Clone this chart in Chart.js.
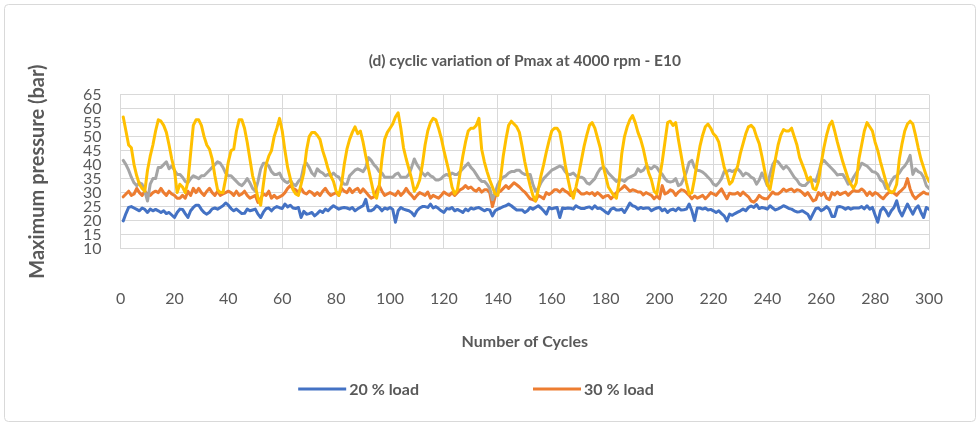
<!DOCTYPE html>
<html>
<head>
<meta charset="utf-8">
<script src="https://cdn.jsdelivr.net/npm/chart.js@4.4.1/dist/chart.umd.min.js"></script>
<style>
  html, body { margin: 0; padding: 0; background: #ffffff; }
  #wrap { width: 980px; height: 426px; position: relative; }
  canvas { display: block; }
</style>
</head>
<body>
<div id="wrap"><canvas id="c" width="980" height="426"></canvas></div>
<script>
// ---------- data ----------
const chartTitle = '(d) cyclic variation of Pmax at 4000 rpm - E10';
const xTitle = 'Number of Cycles';
const yTitle = 'Maximum pressure (bar)';
const seriesNames = ['20 % load', '30 % load', '40 % load', '50 % load'];
const legendNames = ['20 % load', '30 % load'];
const xTicks = [0, 20, 40, 60, 80, 100, 120, 140, 160, 180, 200, 220, 240, 260, 280, 300];
const yTicks = [10, 15, 20, 25, 30, 35, 40, 45, 50, 55, 60, 65];
const cycles = Array.from({ length: 300 }, (_, i) => i + 1);

const load20 = [
  19.9, 22.5, 24.7, 25, 24.5, 24, 23.5, 24.5, 24, 22.9,
  24.1, 23.5, 24, 23.5, 22.9, 23.5, 22.5, 22.9, 22, 21.1,
  22.9, 24.1, 24, 22.5, 21.1, 23.5, 24.7, 25.5, 25.5, 24,
  22.9, 22.3, 23, 24.2, 24.5, 24.1, 24.7, 25.3, 26.3, 25.5,
  24.3, 23.5, 24.1, 23.3, 22.5, 22.6, 24.1, 23.5, 23.8, 24.1,
  22.3, 21.1, 23, 24.3, 24.5, 23.5, 24.5, 25, 24.6, 24.3,
  25.9, 24.9, 25.5, 24.5, 24.3, 24.7, 21.1, 23.3, 22.3, 22.5,
  22.9, 21.7, 22.5, 23.5, 22.9, 24.1, 23.5, 24.5, 25.3, 24.7,
  24.1, 24.5, 24.7, 24.5, 24.1, 24.7, 23.5, 24.2, 24.8, 25.3,
  27.6, 23.5, 23.5, 24.1, 25.3, 24.7, 23.5, 24.5, 24.1, 24.7,
  24, 19.4, 23.5, 24.7, 24.1, 23.8, 23.5, 22.9, 21.7, 23.5,
  24.5, 25, 25, 24.7, 25.9, 24.5, 25, 24.3, 23.5, 22.9,
  24.3, 24.1, 24.7, 23.5, 24, 23.5, 22.9, 24.1, 23.5, 24.5,
  24.1, 24.5, 24.7, 24.1, 23.5, 24, 23.8, 21.7, 23.5, 24.1,
  24.5, 25, 25.3, 25.9, 25.3, 24.5, 23.8, 23.8, 23.8, 22.9,
  23.5, 24.7, 24.1, 24.7, 25.3, 24.5, 23.5, 22.3, 24.7, 24.2,
  24.5, 24.7, 21.1, 24.5, 24.3, 24.5, 24.4, 24.1, 25.3, 24.7,
  24.3, 24.3, 24.7, 24.9, 24.2, 25.3, 24.3, 24.5, 23.8, 23,
  22.5, 24.1, 24.5, 23.8, 23.8, 24.1, 22.9, 24.5, 26.3, 25.3,
  25, 24.1, 24.7, 24.3, 24.5, 24.5, 23.5, 24.1, 24.5, 24.7,
  23.5, 24.1, 22.9, 23.8, 24.1, 23.5, 24.5, 23.8, 23.9, 24.1,
  25.9, 23.5, 20, 24.5, 24.5, 24.1, 24.5, 23.8, 24, 23.5,
  22.9, 23.5, 22.5, 21.7, 19.9, 22.3, 21.9, 22.5, 23, 23.5,
  24.1, 23.5, 24.7, 25.2, 24.7, 25.7, 24.3, 24.7, 24.5, 24.1,
  25.3, 24.5, 23.8, 24.2, 24.7, 25.3, 24.9, 24.3, 24.1, 23.5,
  23.1, 23.2, 23.5, 22.9, 22.3, 20.5, 22.5, 24.3, 24.5, 23.5,
  24.1, 25, 24, 21.5, 21.5, 24.9, 25, 24.7, 24.1, 24.7,
  24.1, 24.5, 24.5, 24.5, 25, 24.2, 25.3, 24.1, 24.7, 22,
  19.4, 23.5, 24.7, 23.5, 21.7, 23.5, 24.7, 27.1, 23.5, 21.7,
  23.8, 25.9, 24.1, 22.3, 24.3, 25.3, 23, 21.1, 24.7, 24
];

const load30 = [
  28.5, 29.5, 30.5, 29, 29.5, 31.5, 30, 29, 30.5, 29.5,
  29, 30, 30.5, 30, 31.5, 30, 29, 30.5, 29.5, 29,
  28, 28, 29, 28, 30.5, 29, 31.5, 30, 31.5, 30,
  29, 30.5, 31.5, 30, 29, 30.5, 29, 29.5, 30, 30.5,
  30, 29, 30.5, 29, 29.5, 30.5, 29, 28, 28.5, 29,
  26.5, 28, 29.5, 29, 30.5, 28, 29, 28, 28.5, 29,
  30, 31.5, 32.5, 31.5, 31, 30, 31.5, 30, 29.5, 30.5,
  30, 29, 30, 29, 30.5, 31.5, 30, 29, 29.5, 30,
  29, 31.5, 30.5, 30, 31.5, 30, 31, 31.5, 30, 31.3,
  30.2, 29, 28, 28.5, 30.5, 32.5, 30.5, 29, 29.5, 30,
  29.5, 29, 30.5, 29, 30, 31.5, 30, 29, 27.8, 29,
  30, 29.5, 29, 30.2, 28, 29, 28.5, 28, 29, 30.2,
  29.5, 29, 30, 29, 30, 31, 31.5, 32.5, 31.5, 32,
  31, 30.5, 31.5, 30.2, 31, 31, 30, 25, 28.5, 30,
  30.5, 31.5, 32.5, 31.5, 32.5, 33.5, 32.8, 32, 31, 30.2,
  29, 27.8, 27.5, 27, 29, 28.5, 27.8, 30, 29.3, 30,
  31, 31, 30.2, 31.3, 30.5, 30, 29, 30, 31.3, 30.5,
  29.5, 29.5, 30, 29.5, 30, 29, 30, 29.2, 28.2, 28.8,
  29, 27.8, 28.8, 30, 30.8, 31.5, 32.5, 31.5, 30.5, 31,
  30.7, 30.2, 30.2, 29.2, 30, 29.5, 29, 27.8, 28.8, 27.8,
  32.5, 29.5, 30, 31, 30.5, 29, 30.2, 31, 30.8, 30,
  29, 27.8, 28.8, 28, 28.5, 29, 27.8, 28.8, 30, 29.5,
  29, 30.2, 31.3, 29.5, 27.8, 29.8, 29.5, 29.5, 30, 29,
  30.2, 29.3, 28.5, 27, 26.6, 27.5, 29, 28.2, 27.8, 27.8,
  29, 30.2, 29.5, 29.5, 30.2, 31.3, 30.5, 31, 31.3, 30.3,
  31, 30.8, 30, 29, 30, 28.5, 27, 27.5, 30, 29,
  30, 28, 27.5, 30, 29.2, 30.2, 29.3, 29.8, 30.2, 29,
  30, 30.8, 30.5, 30.5, 31.3, 30.5, 29, 30.2, 29, 30,
  29.5, 28.5, 27.8, 29, 30, 30.2, 29.8, 29, 30.2, 31,
  32, 35, 31.3, 29, 27.8, 28.8, 29.5, 30.2, 29.6, 29.5
];

const load40 = [
  41.5, 40, 38, 35.5, 33.5, 32.5, 33.5, 33, 30.5, 27,
  33, 35, 35, 39, 39, 40, 41, 38.5, 39.5, 38,
  36.5, 36.5, 35.5, 34, 33.5, 35, 36, 35.5, 35, 36,
  36, 37, 38, 39, 40, 41, 40.5, 39, 37, 36,
  36, 35, 34, 33, 32.5, 33.5, 35, 33.5, 31.5, 30.5,
  34, 38.5, 40.5, 40.5, 39.5, 37.5, 36.5, 36.5, 37, 35,
  34, 33.5, 34.5, 33, 32.5, 34, 35, 39.5, 40.5, 39,
  37, 36, 38.5, 37.5, 37, 36, 36.5, 36, 37, 36,
  35.5, 34, 33, 33, 36, 37, 38, 38.5, 38, 37.5,
  39, 42.5, 41.5, 40, 39, 37.5, 37, 35.5, 35.5, 35.5,
  35.5, 36.5, 37, 35.5, 35.5, 35.5, 36.5, 39, 42, 40,
  38.5, 37, 36, 37, 36, 35.5, 34.5, 34.5, 35, 36,
  36.5, 36, 37, 36.5, 36.5, 37.5, 38.5, 39.5, 40.5, 39,
  38, 36.5, 35, 34, 34, 33, 31.5, 27.5, 30, 33,
  34.5, 35.5, 36, 37, 37.5, 37.5, 38, 38, 37, 36.5,
  36.5, 36.5, 33, 30.5, 31.5, 33.5, 35, 36, 37, 38,
  38.5, 39, 39.5, 39, 37.5, 36.5, 36.5, 37, 36, 35.5,
  35.5, 35, 33.5, 33, 34, 35, 37, 38.5, 39, 38.5,
  37, 36, 35, 34, 34.5, 34.5, 34, 35, 35.5, 36,
  36.5, 38.5, 37.5, 38, 39.5, 39, 38.5, 39.5, 39, 37.5,
  36.5, 35, 34, 33.8, 34, 35, 32.5, 33, 35, 37.5,
  40.8, 41.5, 39, 38, 37.8, 37.3, 36.5, 35.5, 34.5, 33,
  32.5, 33.5, 35, 37.5, 37.5, 38, 37.5, 38, 38.5, 37.5,
  36, 37, 36.5, 35.5, 35, 33, 34.5, 37, 35, 32.5,
  36.5, 40, 41.5, 41, 39.7, 38.5, 39.5, 38.5, 37, 35.5,
  34.5, 33, 32.5, 32.5, 33.5, 34.5, 34.5, 34, 37, 40.5,
  41.5, 40.5, 39.5, 38.5, 37.5, 36.3, 36.5, 36.5, 35, 33,
  33.5, 35.5, 37, 38.5, 40.5, 40, 39.5, 38.5, 37.5, 37.3,
  36.5, 34.5, 33.8, 31.5, 32, 34, 35.5, 36, 37, 38.5,
  39.5, 41, 43.3, 36.5, 38.5, 37.5, 37, 35.5, 32.5, 31.5
];

const load50 = [
  57, 52, 47, 46, 40, 36, 33, 31.5, 30.5, 38,
  43, 47, 52, 56, 55.5, 54, 51.5, 47, 42, 38,
  30, 33, 32, 30, 34, 44, 54, 56, 56, 54,
  50, 47, 45.5, 42, 36, 31, 30, 30, 35, 41,
  45, 45.5, 52, 56, 56, 53, 48, 42, 36, 32.5,
  28, 25.5, 33, 40, 43, 45, 50, 53, 56.5, 52,
  45, 39, 35, 31, 29.5, 29, 33, 37, 45, 50,
  51.5, 51.5, 50.5, 49, 45, 42, 38.5, 36, 34, 30.5,
  29, 33, 40, 45.5, 49, 51.5, 53.5, 51, 52, 48,
  43, 38.5, 34, 29.5, 28, 32.5, 42, 49, 51.5, 53,
  54.5, 57, 58.5, 53, 46, 42, 38.5, 35, 30.5, 32,
  34.5, 40, 47, 52, 55, 56.5, 56, 53, 49.5, 45,
  41, 37, 32, 29.5, 31, 37, 43, 48, 52, 53,
  53, 54, 56.5, 45.5, 41, 37.5, 34.5, 32, 29.5, 29,
  35, 43, 49, 54, 55.5, 54.5, 53.5, 51.5, 46.5, 41,
  36.5, 32.5, 29, 27, 31, 36, 40, 44.5, 48.5, 52,
  53, 53, 51.5, 46, 40, 35, 30.5, 28, 32, 36.5,
  41.5, 46.5, 50.5, 54, 55, 53, 49.5, 46, 40, 36,
  32, 30.5, 29, 28, 34, 44, 50, 53.5, 56, 57.5,
  55, 51.5, 49, 45.5, 41, 37, 34.5, 30.5, 29.5, 35,
  41, 48, 55, 55.5, 54, 55, 49, 43.5, 38, 33.5,
  29.5, 30, 35, 41, 46.5, 50.5, 53.5, 54.5, 53, 51,
  50, 48, 43.5, 39, 36.5, 33, 34, 37, 39.5, 44,
  47.5, 51, 53.5, 54, 53, 50, 47.5, 43, 38, 33,
  31, 36.5, 42, 47, 50.5, 52.5, 52, 52, 53, 50,
  47, 42.5, 40, 37.5, 34.5, 35.5, 31.5, 31, 34, 40.5,
  46, 50.5, 54, 55.5, 52, 48, 44.5, 41, 38, 35,
  33, 31.5, 33.5, 42, 47, 52, 55, 53.5, 52, 48,
  45, 41, 37.5, 34, 31, 30, 30.5, 33, 42, 47.5,
  52, 54.5, 55.5, 54.5, 50.5, 46, 42, 39, 36, 34
];

// ---------- styles ----------
const FONT = 'Lato, "Liberation Sans", Arial, sans-serif';
const TXT = '#595959';
const GRID = '#D9D9D9';
const colors = ['#4472C4', '#ED7D31', '#A5A5A5', '#FFC000'];
const seriesValues = [load20, load30, load40, load50];

Chart.defaults.font.family = FONT;
Chart.defaults.color = TXT;

const frame = {
  id: 'frame',
  beforeDraw(chart) {
    const ctx = chart.ctx;
    ctx.save();
    ctx.fillStyle = '#ffffff';
    ctx.fillRect(0, 0, chart.width, chart.height);
    ctx.strokeStyle = GRID;
    ctx.lineWidth = 1;
    ctx.beginPath();
    ctx.roundRect(4.5, 4.5, chart.width - 9, chart.height - 9, 4);
    ctx.stroke();
    ctx.restore();
  }
};

const lineLegend = {
  id: 'lineLegend',
  afterDraw(chart) {
    const ctx = chart.ctx;
    ctx.save();
    ctx.font = 'bold 16px ' + FONT;
    ctx.textBaseline = 'middle';
    ctx.textAlign = 'left';
    const lineW = 48, gap = 3, spacing = 114;
    const items = legendNames.map((name, i) => ({ name, color: chart.data.datasets[i].borderColor }));
    const widths = items.map(it => lineW + gap + ctx.measureText(it.name).width);
    const total = widths.reduce((a, b) => a + b, 0) + spacing * (items.length - 1);
    let x = 476 - total / 2;
    const y = 389;
    items.forEach((it, i) => {
      ctx.strokeStyle = it.color;
      ctx.lineWidth = 3;
      ctx.beginPath();
      ctx.moveTo(x, y);
      ctx.lineTo(x + lineW, y);
      ctx.stroke();
      ctx.fillStyle = TXT;
      ctx.fillText(it.name, x + lineW + gap, y + 1);
      x += widths[i] + spacing;
    });
    ctx.restore();
  }
};

const datasets = seriesNames.map((name, i) => ({
  label: name,
  data: seriesValues[i].map((v, k) => ({ x: cycles[k], y: v })),
  borderColor: colors[i],
  backgroundColor: colors[i],
  borderWidth: 3,
  pointRadius: 0,
  tension: 0,
  borderJoinStyle: 'round',
  borderCapStyle: 'round',
  order: 4 - i
}));

new Chart(document.getElementById('c'), {
  type: 'line',
  data: { datasets },
  plugins: [frame, lineLegend],
  options: {
    responsive: false,
    animation: false,
    devicePixelRatio: 1,
    layout: { padding: { left: 26, right: 51, top: 52, bottom: 75 } },
    plugins: {
      legend: { display: false },
      tooltip: { enabled: false },
      title: {
        display: true,
        text: chartTitle,
        fullSize: false,
        color: TXT,
        font: { size: 15.5, weight: 'bold', family: FONT },
        padding: { top: 0, bottom: 24 }
      }
    },
    scales: {
      x: {
        type: 'linear',
        min: 0, max: 300,
        afterBuildTicks: s => { s.ticks = xTicks.map(v => ({ value: v })); },
        grid: { color: GRID, drawTicks: true, tickLength: 36, tickColor: 'rgba(0,0,0,0)', lineWidth: 1 },
        border: { color: GRID },
        ticks: { color: TXT, padding: 5, font: { size: 16 }, maxRotation: 0, autoSkip: false },
        title: {
          display: true, text: xTitle, color: TXT,
          font: { size: 16, weight: 'bold' },
          padding: { top: 18, bottom: 0 }
        }
      },
      y: {
        min: 10, max: 65,
        afterBuildTicks: s => { s.ticks = yTicks.map(v => ({ value: v })); },
        grid: { color: GRID, drawTicks: true, tickLength: 14, tickColor: 'rgba(0,0,0,0)', lineWidth: 1 },
        border: { color: GRID },
        ticks: { color: TXT, padding: 5, font: { size: 16 }, autoSkip: false },
        title: {
          display: true, text: yTitle, color: TXT,
          font: { size: 20, weight: 'bold' },
          padding: { top: 0, bottom: 28 }
        }
      }
    }
  }
});
</script>
</body>
</html>
